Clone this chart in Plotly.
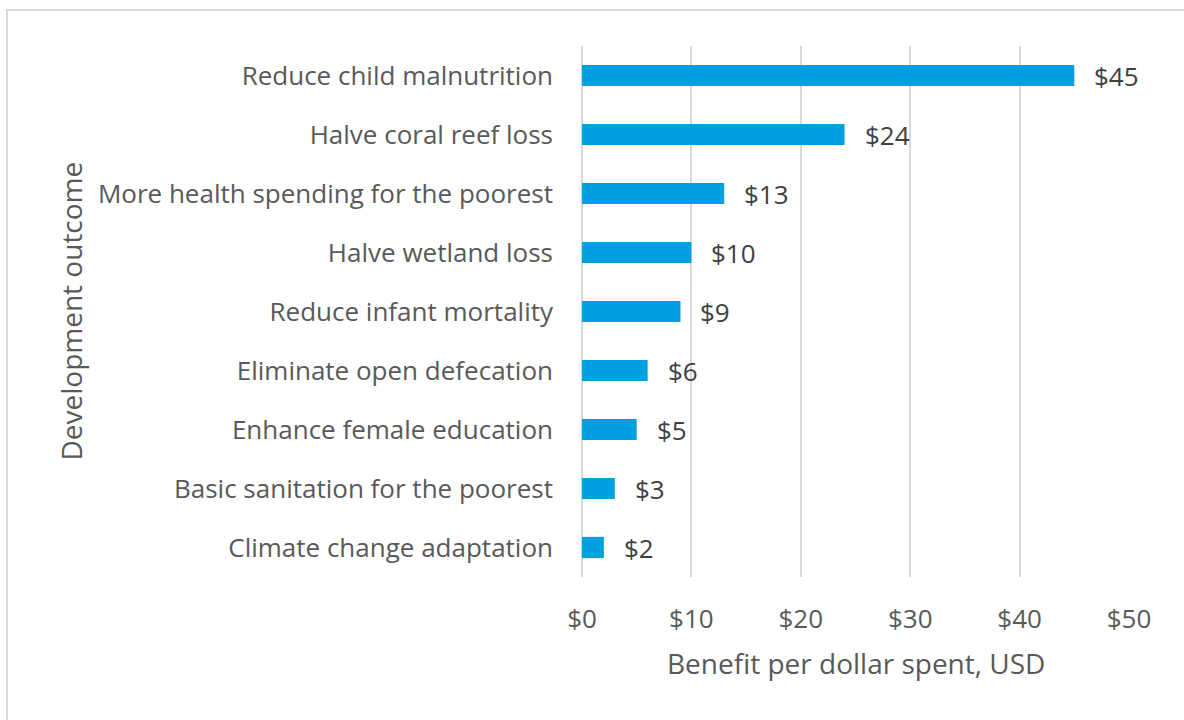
import plotly.graph_objects as go

categories = [
    "Reduce child malnutrition",
    "Halve coral reef loss",
    "More health spending for the poorest",
    "Halve wetland loss",
    "Reduce infant mortality",
    "Eliminate open defecation",
    "Enhance female education",
    "Basic sanitation for the poorest",
    "Climate change adaptation",
]
values = [45, 24, 13, 10, 9, 6, 5, 3, 2]
x_ticks = [0, 10, 20, 30, 40, 50]
x_tick_labels = ["$0", "$10", "$20", "$30", "$40", "$50"]
x_title = "Benefit per dollar spent, USD"
y_title = "Development outcome"

W, H = 1184, 720
L, R, T, B = 582, 55, 46, 143
pw, ph = W - L - R, H - T - B

FONT = "Open Sans"
GRAY = "#595959"

fig = go.Figure()
fig.add_trace(go.Bar(
    x=values, y=categories, orientation="h",
    marker=dict(color="#009FDF", line=dict(width=0)),
    hoverinfo="x+y",
))

for c, v in zip(categories, values):
    fig.add_annotation(
        x=v, y=c, xref="x", yref="y", text=f"${v}", showarrow=False,
        xanchor="left", xshift=18, font=dict(family=FONT, size=26, color="#404040"),
    )

fig.add_annotation(
    x=0.5, y=(H - 663 - B) / ph, xref="paper", yref="paper", text=x_title,
    showarrow=False, xanchor="center", yanchor="middle",
    font=dict(family=FONT, size=28, color=GRAY),
)
fig.add_annotation(
    x=(70 - L) / pw, y=0.5, xref="paper", yref="paper", text=y_title,
    showarrow=False, xanchor="center", yanchor="middle", textangle=-90,
    font=dict(family=FONT, size=28, color=GRAY),
)

fig.add_shape(
    type="rect", xref="paper", yref="paper",
    x0=(7 - L) / pw, x1=(W + 10 - L) / pw,
    y0=(H - 730 - B) / ph, y1=(H - 10 - B) / ph,
    line=dict(color="#d9d9d9", width=2), fillcolor="rgba(0,0,0,0)", layer="below",
)

fig.update_layout(
    width=W, height=H,
    margin=dict(l=L, r=R, t=T, b=B, autoexpand=False),
    paper_bgcolor="white", plot_bgcolor="white",
    bargap=0.64, showlegend=False,
    font=dict(family=FONT, size=26, color=GRAY),
    xaxis=dict(
        range=[0, 50], tickvals=x_ticks, ticktext=x_tick_labels,
        showgrid=True, gridcolor="#d9d9d9", gridwidth=2,
        zeroline=True, zerolinecolor="#d9d9d9", zerolinewidth=2,
        showline=False, ticks="",
        ticklabelstandoff=24, fixedrange=True, automargin=False,
        tickfont=dict(family=FONT, size=26, color=GRAY),
    ),
    yaxis=dict(
        categoryorder="array", categoryarray=categories[::-1],
        showgrid=False, zeroline=False, showline=False, ticks="",
        ticklabelstandoff=28, automargin=False,
        tickfont=dict(family=FONT, size=26, color=GRAY),
    ),
)

fig.write_html("out.html")
